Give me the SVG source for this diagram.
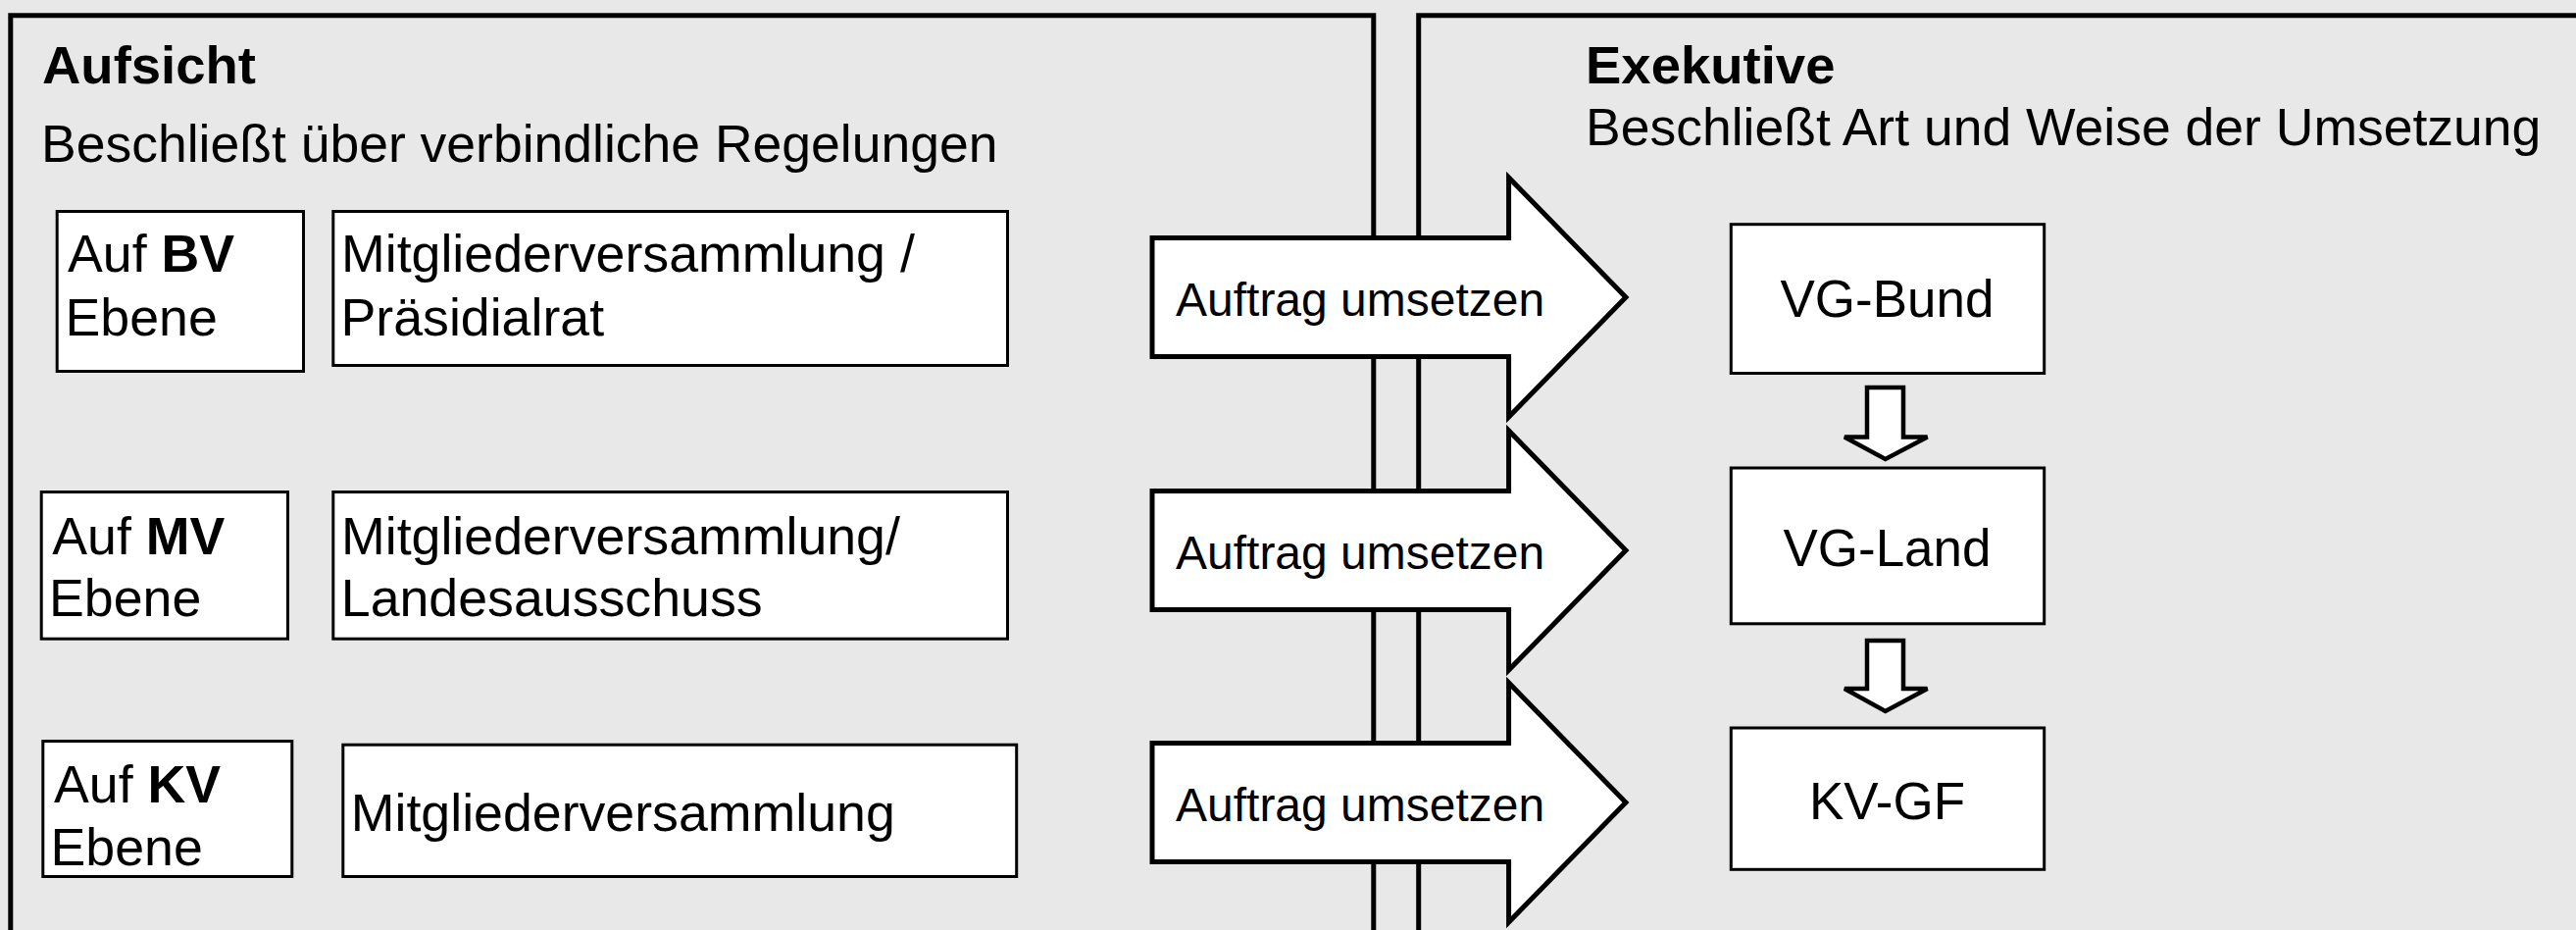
<svg xmlns="http://www.w3.org/2000/svg" width="2627" height="948" viewBox="0 0 2627 948">
<style>
  text { font-family: "Liberation Sans", Arial, sans-serif; fill: #000; }
  .panel { fill: none; stroke: #000; stroke-width: 5; }
  .box { fill: #fff; stroke: #000; stroke-width: 3; }
  .big { fill: #fff; stroke: #000; stroke-width: 5; stroke-linejoin: miter; }
  .small { fill: #fff; stroke: #000; stroke-width: 4.5; stroke-linejoin: miter; }
  .head { font-size: 54.5px; font-weight: bold; }
  .sub { font-size: 53.5px; }
  .t53 { font-size: 53.7px; }
  .t48 { font-size: 48px; }
  .t51 { font-size: 53px; text-anchor: middle; }
  .b { font-weight: bold; }
</style>
<rect x="0" y="0" width="2627" height="948" fill="#e8e8e8"/>

<g id="panel-aufsicht">
  <path class="panel" d="M10.8,960 V15.8 H1400.8 V960"/>
  <text class="head" x="43" y="85">Aufsicht</text>
  <text class="sub" x="42" y="165">Beschließt über verbindliche Regelungen</text>
</g>

<g id="panel-exekutive">
  <path class="panel" d="M1446.7,960 V15.8 H2640"/>
  <text class="head" x="1617" y="85">Exekutive</text>
  <text class="sub" x="1617" y="148">Beschließt Art und Weise der Umsetzung</text>
</g>

<g id="bv-ebene">
  <rect class="box" x="58.2" y="215.5" width="251.3" height="163"/>
  <text class="t53" x="69" y="277"><tspan>Auf </tspan><tspan class="b">BV</tspan></text>
  <text class="t53" x="66.5" y="341.5">Ebene</text>
</g>
<g id="bv-organ">
  <rect class="box" x="339.8" y="215.5" width="687.7" height="157"/>
  <text class="t53" x="348" y="277">Mitgliederversammlung /</text>
  <text class="t53" x="347.5" y="341.5">Präsidialrat</text>
</g>

<g id="mv-ebene">
  <rect class="box" x="42.2" y="501.5" width="251.3" height="149.7"/>
  <text class="t53" x="53.3" y="565"><tspan>Auf </tspan><tspan class="b">MV</tspan></text>
  <text class="t53" x="50" y="628.3">Ebene</text>
</g>
<g id="mv-organ">
  <rect class="box" x="339.8" y="501.5" width="687.7" height="149.7"/>
  <text class="t53" x="348" y="565">Mitgliederversammlung/</text>
  <text class="t53" x="347.8" y="628.3">Landesausschuss</text>
</g>

<g id="kv-ebene">
  <rect class="box" x="43.8" y="755.5" width="254" height="138"/>
  <text class="t53" x="55" y="818.3"><tspan>Auf </tspan><tspan class="b">KV</tspan></text>
  <text class="t53" x="51.5" y="881.7">Ebene</text>
</g>
<g id="kv-organ">
  <rect class="box" x="349.8" y="759.2" width="686.9" height="134.3"/>
  <text class="t53" x="357.8" y="846.7">Mitgliederversammlung</text>
</g>

<g id="connectors">
  <g id="auftrag-1">
    <polygon class="big" points="1175,242.5 1538.6,242.5 1538.6,181 1658,303 1538.6,425 1538.6,363.5 1175,363.5"/>
    <text class="t48" x="1199" y="321.7">Auftrag umsetzen</text>
  </g>
  <g id="auftrag-2">
    <polygon class="big" points="1175,500.5 1538.6,500.5 1538.6,439 1658,561 1538.6,683 1538.6,621.5 1175,621.5"/>
    <text class="t48" x="1199" y="579.5">Auftrag umsetzen</text>
  </g>
  <g id="auftrag-3">
    <polygon class="big" points="1175,757.5 1538.6,757.5 1538.6,696 1658,818 1538.6,940 1538.6,878.5 1175,878.5"/>
    <text class="t48" x="1199" y="836.5">Auftrag umsetzen</text>
  </g>
  <polygon id="down-1" class="small" points="1904,395 1941,395 1941,445.5 1965.5,445.5 1922.7,468 1881,445.5 1904,445.5"/>
  <polygon id="down-2" class="small" points="1904,653 1941,653 1941,702 1965.5,702 1922.7,725 1881,702 1904,702"/>
</g>

<g id="vg-bund">
  <rect class="box" x="1765.3" y="228.7" width="319.4" height="151.8"/>
  <text class="t51" x="1924.5" y="323.3">VG-Bund</text>
</g>
<g id="vg-land">
  <rect class="box" x="1765.3" y="477" width="319.4" height="158.8"/>
  <text class="t51" x="1924.5" y="576.7">VG-Land</text>
</g>
<g id="kv-gf">
  <rect class="box" x="1765.3" y="742" width="319.4" height="144.3"/>
  <text class="t51" x="1924.5" y="835">KV-GF</text>
</g>
</svg>
